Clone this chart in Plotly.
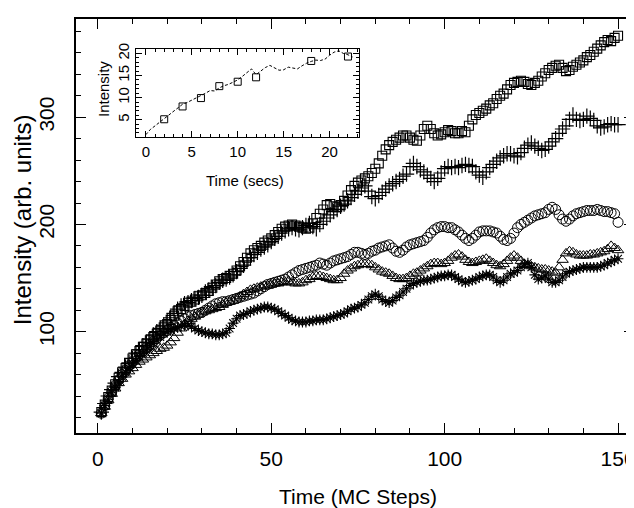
import plotly.graph_objects as go

steps = list(range(1, 151))

squares = [25,32,39,45,51,57,62,66,71,75,79,82,86,89,92,95,98,101,104,107,
           111,115,119,121,124,127,128,130,133,134,136,138,141,144,147,149,150,152,154,157,
           161,165,169,173,176,178,180,183,185,187,190,193,196,198,199,200,199,198,197,196,
           197,201,206,210,214,218,219,217,216,218,222,227,232,236,239,241,243,245,248,252,
           257,264,270,274,277,279,281,283,283,281,279,278,283,289,292,289,285,283,284,286,
           288,287,285,285,287,286,292,298,302,304,306,308,311,313,317,320,322,326,330,332,
           333,334,333,331,330,332,334,338,341,344,346,348,349,346,343,344,347,349,351,353,
           356,358,361,364,367,370,372,371,374,376]

pluses = [25,33,40,46,52,58,62,67,71,75,80,83,87,90,93,97,100,103,106,110,
          113,117,121,124,126,127,129,131,132,134,137,139,141,143,146,148,149,151,153,156,
          159,162,166,169,172,174,177,179,181,184,187,189,192,194,196,197,196,195,197,199,
          201,198,196,200,203,206,209,212,214,217,219,222,225,228,231,234,236,231,226,224,
          227,230,233,236,238,240,242,245,247,254,257,254,251,249,246,243,240,243,248,252,
          254,253,254,253,255,256,255,254,249,246,244,249,253,256,259,262,264,266,266,264,
          263,267,271,274,276,273,271,269,270,273,277,280,285,289,292,298,302,298,297,298,
          301,299,297,292,290,291,293,294,293,293]

circles = [24,31,38,44,50,55,60,64,68,72,76,79,82,85,88,91,94,97,99,101,
           104,106,108,110,112,114,115,116,117,118,120,122,124,126,127,128,128,129,130,131,
           132,133,134,135,136,138,140,142,144,145,146,147,148,149,151,153,155,157,158,159,
           160,161,162,164,163,162,164,166,167,168,169,170,172,174,174,173,172,173,175,176,
           178,179,180,181,178,175,174,176,179,181,182,183,184,185,188,192,195,197,198,198,
           197,197,195,193,190,187,185,187,190,193,194,194,194,193,192,189,186,185,187,192,
           197,200,202,204,206,208,209,210,211,214,216,214,209,205,203,205,208,210,211,212,
           213,213,213,214,213,212,212,211,210,202]

triangles = [24,30,36,42,47,52,56,60,63,66,69,72,74,76,78,80,82,84,85,87,
             90,94,99,103,107,110,112,114,116,118,119,120,121,122,123,125,127,128,129,131,
             133,135,137,139,140,141,142,143,143,144,145,145,146,146,147,146,145,145,146,148,
             149,151,152,152,151,150,149,148,148,150,154,157,159,161,162,163,163,163,162,160,
             158,156,155,154,152,150,149,149,150,152,154,155,157,159,161,163,164,164,163,164,
             166,169,171,172,170,167,165,164,165,166,167,168,166,164,162,161,163,166,169,171,
             169,166,163,162,161,160,159,158,158,157,156,155,160,167,173,175,174,172,171,171,
             171,172,172,173,174,175,177,180,178,176]

asterisks = [24,31,37,43,48,53,58,62,66,70,73,77,80,83,86,89,92,95,98,100,
             102,103,104,105,106,106,105,103,101,100,99,98,98,97,97,98,99,103,108,112,
             115,116,117,119,120,121,122,123,123,122,121,119,117,115,113,111,110,109,109,109,
             110,110,111,111,111,112,113,114,115,116,117,119,121,122,123,125,127,130,133,135,
             133,130,128,127,129,132,134,137,140,143,145,146,147,148,148,149,150,151,152,152,
             153,153,151,149,147,146,147,148,149,151,152,153,153,151,148,146,148,151,154,155,
             157,160,163,164,160,153,149,150,152,149,146,146,148,151,154,156,157,158,159,160,
             160,160,160,160,161,162,164,165,167,168]

inset_line_t = [0,0.5,1,1.5,2,2.5,3,3.5,4,4.5,5,5.5,6,6.5,7,7.5,8,8.5,9,9.5,10,10.5,11,11.5,
                12,12.5,13,13.5,14,14.5,15,15.5,16,16.5,17,17.5,18,18.5,19,19.5,20,20.5,21,21.5,22,22.5]
inset_line_i = [1.6,2.8,3.6,4.4,5.2,6.0,6.9,7.7,8.5,8.9,9.4,9.9,10.5,11.0,11.6,11.5,12.2,12.7,13.0,13.5,
                14.0,14.8,15.7,16.5,15.2,16.0,16.8,17.3,16.8,16.2,16.3,16.9,16.7,16.5,17.2,17.8,18.2,18.5,18.4,18.7,
                19.6,20.3,20.6,20.0,19.7,19.2]
inset_sq_t = [2,4,6,8,10,12,18,22]
inset_sq_i = [5.1,8.0,9.9,12.6,13.6,14.6,18.3,19.3]

FONT = "Liberation Sans"
BLACK = "black"

# The page body has an 8px margin; lay the figure out in window pixels.
OFF = 8
W, H = 634, 508
PL, PR, PT, PB = 76, 634, 13, 432.7   # plot box in window pixels
PW, PH = PR - PL, PB - PT

def wx(X):
    return (X - PL) / PW

def wy(Y):
    return (PB - Y) / PH

fig = go.Figure()

def add_series(y, symbol, size, lw=1.0):
    fig.add_trace(go.Scatter(
        x=steps, y=y, mode="markers",
        marker=dict(symbol=symbol, size=size, color=BLACK,
                    line=dict(color=BLACK, width=lw)),
        showlegend=False, xaxis="x", yaxis="y", cliponaxis=False))

add_series(squares, "square-open", 9, 1.1)
add_series(pluses, "cross-thin-open", 11, 1.2)
add_series(circles, "circle-open", 10, 1.0)
add_series(triangles, "triangle-up-open", 10, 1.0)
add_series(asterisks, "asterisk-open", 9, 1.1)

fig.add_trace(go.Scatter(x=inset_line_t, y=inset_line_i, mode="lines",
                         line=dict(color=BLACK, width=1, dash="3px,2px"),
                         showlegend=False, xaxis="x2", yaxis="y2"))
fig.add_trace(go.Scatter(x=inset_sq_t, y=inset_sq_i, mode="markers",
                         marker=dict(symbol="square-open", size=7, color=BLACK,
                                     line=dict(color=BLACK, width=1)),
                         showlegend=False, xaxis="x2", yaxis="y2"))

axis_common = dict(showline=True, linecolor=BLACK, mirror="ticks",
                   ticks="inside", tickcolor=BLACK, showgrid=False, zeroline=False)

fig.update_layout(
    width=W, height=H,
    margin=dict(l=PL - OFF, r=W - (PR - OFF), t=PT - OFF, b=H - (PB - OFF), pad=0),
    paper_bgcolor="white", plot_bgcolor="white",
    font=dict(family=FONT, color=BLACK),
    xaxis=dict(domain=[0, 1], range=[-6.3, 154.6], tickvals=[0, 50, 100, 150],
               ticklen=10, tickwidth=1.2, linewidth=1.5, ticklabelstandoff=6,
               minor=dict(dtick=10, tick0=0, ticklen=5, ticks="inside", tickcolor=BLACK, tickwidth=1),
               tickfont=dict(size=21), **axis_common),
    yaxis=dict(domain=[0, 1], range=[5.5, 391.6], tickvals=[100, 200, 300],
               ticklen=10, tickwidth=1.2, tickangle=-90, linewidth=1.5, ticklabelstandoff=12,
               minor=dict(dtick=20, tick0=0, ticklen=5, ticks="inside", tickcolor=BLACK, tickwidth=1),
               tickfont=dict(size=21), **axis_common),
    xaxis2=dict(domain=[wx(135.7), wx(359)], anchor="y2", range=[-1.1, 23.2],
                tickvals=[0, 5, 10, 15, 20], ticklen=6, tickwidth=1, linewidth=1.3,
                minor=dict(dtick=1, tick0=0, ticklen=3, ticks="inside", tickcolor=BLACK, tickwidth=1),
                tickfont=dict(size=15), **axis_common),
    yaxis2=dict(domain=[wy(133), wy(43)], anchor="x2", range=[1, 21.1],
                tickvals=[5, 10, 15, 20], ticklen=6, tickwidth=1, tickangle=-90, linewidth=1.3,
                minor=dict(dtick=1, tick0=0, ticklen=3, ticks="inside", tickcolor=BLACK, tickwidth=1),
                tickfont=dict(size=15), **axis_common),
    annotations=[
        dict(text="Time (MC Steps)", x=wx(358), y=wy(497), xref="paper", yref="paper",
             xanchor="center", yanchor="middle", showarrow=False, font=dict(size=21)),
        dict(text="Intensity (arb. units)", x=wx(22), y=wy(217), xref="paper", yref="paper",
             xanchor="center", yanchor="middle", textangle=-90, showarrow=False, font=dict(size=24)),
        dict(text="Time (secs)", x=wx(245), y=wy(177), xref="paper", yref="paper",
             xanchor="center", yanchor="middle", showarrow=False, font=dict(size=15)),
        dict(text="Intensity", x=wx(103), y=wy(84), xref="paper", yref="paper",
             xanchor="center", yanchor="middle", textangle=-90, showarrow=False, font=dict(size=15)),
    ],
)

fig.write_html("out.html")
